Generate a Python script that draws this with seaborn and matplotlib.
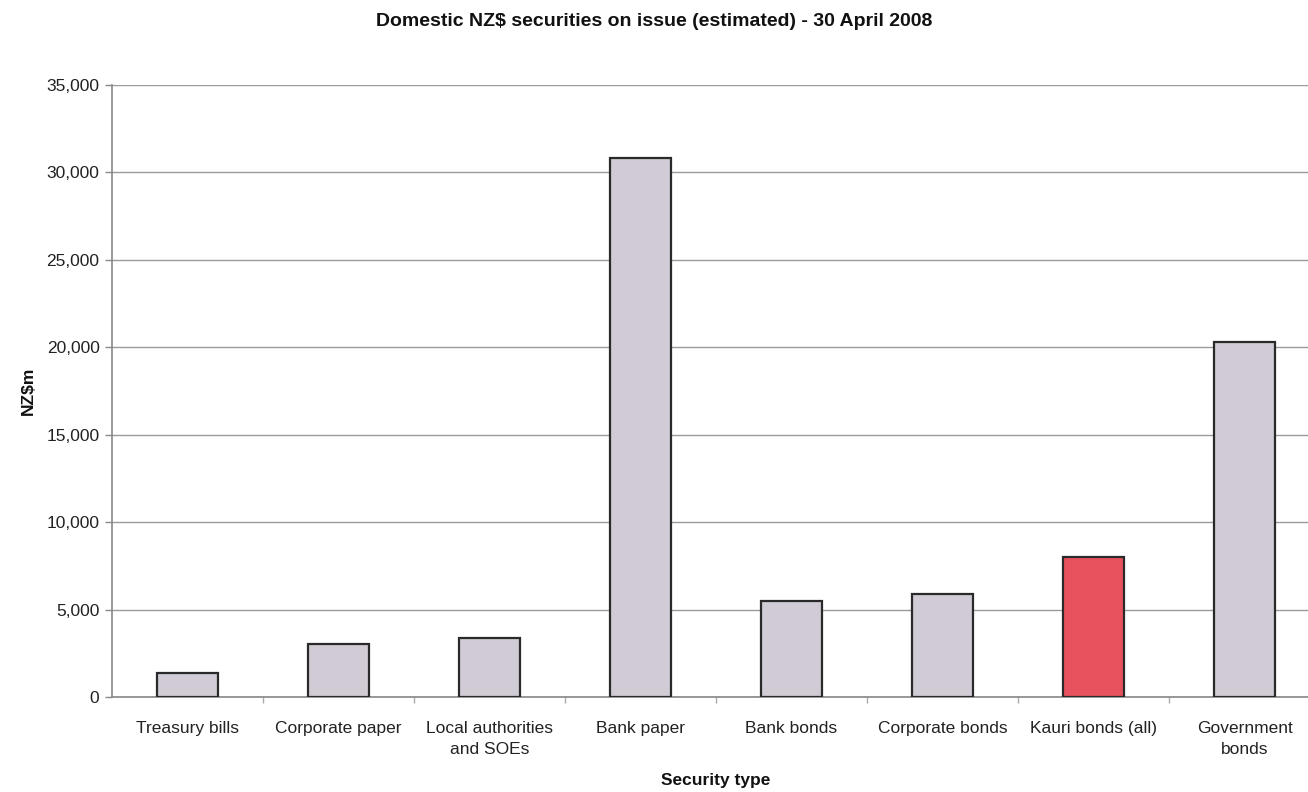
import matplotlib
matplotlib.use("Agg")
import matplotlib.pyplot as plt
import seaborn as sns
import pandas as pd
import numpy as np

categories = ["Treasury bills", "Corporate paper", "Local authorities\nand SOEs",
              "Bank paper", "Bank bonds", "Corporate bonds", "Kauri bonds (all)",
              "Government\nbonds"]
values = [1350, 3050, 3350, 30850, 5480, 5880, 8000, 20300]
bar_colors = ["#d0cbd4"] * 6 + ["#e8525f"] + ["#d0cbd4"]
y_ticks = [0, 5000, 10000, 15000, 20000, 25000, 30000, 35000]

sns.set_theme(style="white")
plt.rcParams["font.family"] = ["Liberation Sans", "DejaVu Sans"]

df = pd.DataFrame({"type": categories, "value": values})

fig = plt.figure(figsize=(13.08, 7.92), dpi=100)
fig.patch.set_facecolor("white")
# axes run slightly past the right edge of the figure
ax = fig.add_axes([112 / 1308, 1 - 697 / 792, 1208 / 1308, 612 / 792])
ax.set_facecolor("white")

sns.barplot(data=df, x="type", y="value", hue="type", palette=bar_colors,
            legend=False, width=0.41, edgecolor="#2a2a2a", linewidth=1.6,
            saturation=1, ax=ax, zorder=3)

ax.set_ylim(0, 35000)
ax.set_xlim(-0.5, 7.5)
ax.set_yticks(y_ticks)
ax.set_yticklabels([f"{v:,}" for v in y_ticks], fontsize=12.5, color="#222222")
ax.yaxis.grid(True, color="#9a9a9a", linewidth=1.0, zorder=0)
ax.xaxis.grid(False)

ax.tick_params(axis="y", which="major", direction="out", length=5, width=1,
               color="#888888", left=True, pad=4)
ax.set_xticks(range(len(categories)))
ax.set_xticklabels(categories, fontsize=12.5, color="#222222", linespacing=1.55)
ax.tick_params(axis="x", which="major", length=0, pad=17)
ax.set_xticks(np.arange(0.5, len(categories) - 0.5, 1.0), minor=True)
ax.tick_params(axis="x", which="minor", direction="out", length=4, width=1,
               color="#aaaaaa", bottom=True)

for side in ["top", "right"]:
    ax.spines[side].set_visible(False)
ax.spines["left"].set_color("#888888")
ax.spines["left"].set_linewidth(1.2)
ax.spines["bottom"].set_color("#888888")
ax.spines["bottom"].set_linewidth(1.2)

ax.set_xlabel("Security type", fontsize=12.5, fontweight="bold",
              color="#111111")
ax.set_ylabel("NZ$m", fontsize=12.5, fontweight="bold", color="#111111")
ax.xaxis.set_label_coords(604 / 1208, -76 / 612)
ax.yaxis.set_label_coords(-76 / 1208, 0.5)
fig.text(654 / 1308, 1 - 21 / 792,
         "Domestic NZ$ securities on issue (estimated) - 30 April 2008",
         ha="center", va="center", fontsize=14, fontweight="bold", color="#111111")

fig.savefig("out.png", dpi=100, facecolor="white")
